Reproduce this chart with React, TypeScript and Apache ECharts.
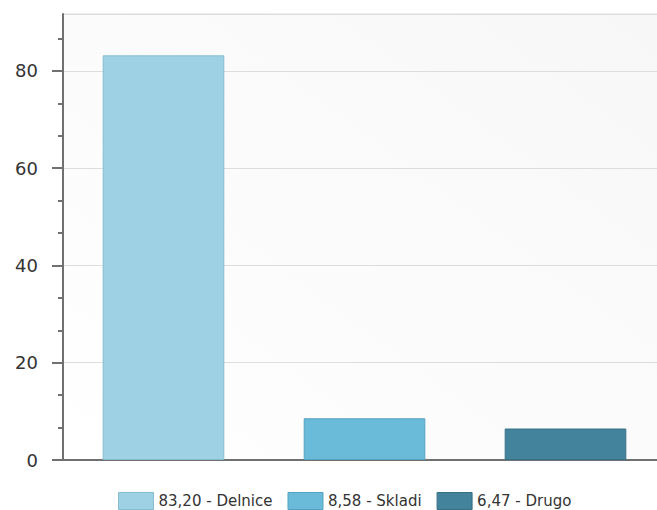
import React, { useEffect, useRef } from "react";
import * as echarts from "echarts";

const categories = ["Delnice", "Skladi", "Drugo"];
const values = [83.2, 8.58, 6.47];
const legendNames = ["83,20 - Delnice", "8,58 - Skladi", "6,47 - Drugo"];
const colors = ["#9fd1e4", "#6abad9", "#43849c"];
const borders = ["#85bcd0", "#55a2c0", "#366f84"];

const Y_MAX = 91.7;
const MAJOR = 20;
const MINOR = 20 / 3;
const MAJOR_TOP = 80;
const MINOR_TOP = 260 / 3;

export default function App() {
  const ref = useRef<HTMLDivElement>(null);
  useEffect(() => {
    document.body.style.margin = "0";
    const chart = echarts.init(ref.current!, undefined, { renderer: "svg" });
    const gLeft = 63;
    const gTop = 14;
    const gH = 446;
    const gBottom = gTop + gH;
    const pxPerUnit = gH / Y_MAX;
    const hMajor = MAJOR_TOP * pxPerUnit;
    const hMinor = MINOR_TOP * pxPerUnit;
    const tickColor = "#707070";
    const series: any[] = categories.map((c, i) => ({
      name: legendNames[i],
      type: "bar",
      stack: "all",
      barWidth: "60.5%",
      data: categories.map((_, j) => (j === i ? values[i] : "-")),
      itemStyle: { color: colors[i], borderColor: borders[i], borderWidth: 1 },
    }));
    chart.setOption({
      animation: false,
      textStyle: { fontFamily: "DejaVu Sans, Verdana, sans-serif" },
      grid: [
        {
          left: gLeft,
          top: gTop,
          width: 603,
          height: gH,
          show: true,
          backgroundColor: {
            type: "linear", x: 0, y: 1, x2: 1, y2: 0,
            colorStops: [
              { offset: 0, color: "#ffffff" },
              { offset: 1, color: "#f7f7f7" },
            ],
          },
          borderColor: "#dddddd",
          borderWidth: 1,
        },
        { left: gLeft, top: gBottom - hMinor, width: 603, height: hMinor },
        { left: gLeft, top: gBottom - hMajor, width: 603, height: hMajor },
      ],
      legend: {
        top: 492,
        left: 118,
        itemWidth: 35,
        itemHeight: 17,
        itemGap: 15,
        icon: "rect",
        padding: 0,
        textStyle: { fontSize: 15, color: "#333", fontFamily: "DejaVu Sans, Verdana, sans-serif" },
        data: legendNames.map((n, i) => ({
          name: n,
          itemStyle: { color: colors[i], borderColor: borders[i], borderWidth: 1 },
        })),
      },
      xAxis: [
        {
          type: "category",
          data: categories,
          gridIndex: 0,
          axisLine: { lineStyle: { color: tickColor, width: 2 } },
          axisTick: { show: false },
          axisLabel: { show: false },
        },
        { type: "value", gridIndex: 1, show: false },
        { type: "value", gridIndex: 2, show: false },
      ],
      yAxis: [
        {
          type: "value",
          gridIndex: 0,
          min: 0,
          max: Y_MAX,
          interval: MAJOR,
          axisLine: { show: true, lineStyle: { color: tickColor, width: 2 } },
          axisTick: { show: false },
          axisLabel: { show: false },
          splitLine: { show: true, lineStyle: { color: "#dddddd", width: 1 } },
        },
        {
          type: "value",
          gridIndex: 1,
          min: 0,
          max: MINOR_TOP,
          interval: MINOR,
          axisLine: { show: false },
          axisTick: { show: true, length: 5, lineStyle: { color: tickColor, width: 2 } },
          axisLabel: { show: false },
          splitLine: { show: false },
        },
        {
          type: "value",
          gridIndex: 2,
          min: 0,
          max: MAJOR_TOP,
          interval: MAJOR,
          axisLine: { show: false },
          axisTick: { show: true, length: 11, lineStyle: { color: tickColor, width: 2 } },
          axisLabel: { fontSize: 18, color: "#333", margin: 25 },
          splitLine: { show: false },
        },
      ],
      series,
    });
    return () => chart.dispose();
  }, []);
  return (
    <div style={{ position: "absolute", left: 0, top: 0, width: 657, height: 510, overflow: "hidden" }}>
      <div ref={ref} style={{ width: 680, height: 510 }} />
    </div>
  );
}
